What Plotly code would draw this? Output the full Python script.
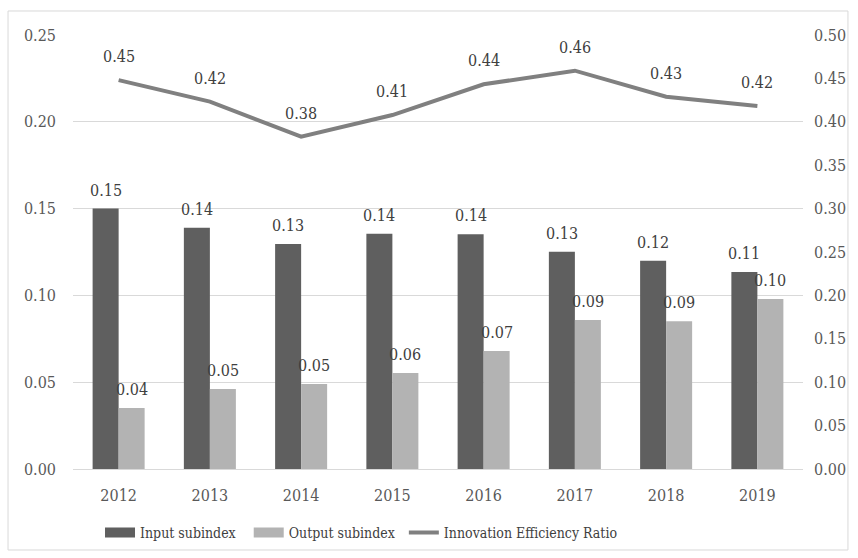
import plotly.graph_objects as go

years = ["2012", "2013", "2014", "2015", "2016", "2017", "2018", "2019"]
input_subindex = [0.150, 0.139, 0.1296, 0.1355, 0.1352, 0.1252, 0.120, 0.1135]
output_subindex = [0.0352, 0.0461, 0.049, 0.0553, 0.068, 0.0858, 0.0851, 0.0979]
efficiency_ratio = [0.448, 0.4232, 0.3829, 0.4078, 0.4432, 0.4589, 0.4289, 0.4182]

left_ticks = [0, 0.05, 0.10, 0.15, 0.20, 0.25]
right_ticks = [0, 0.05, 0.10, 0.15, 0.20, 0.25, 0.30, 0.35, 0.40, 0.45, 0.50]

FONT = "DejaVu Serif Condensed, DejaVu Serif, serif"
TEXT = "#595959"
DARK = "#5f5f5f"
LIGHT = "#b3b3b3"
LINE = "#808080"
GRID = "#d9d9d9"
NBSP = "\u00a0"

fig = go.Figure()
fig.add_trace(go.Bar(x=years, y=input_subindex, name="Input subindex", showlegend=False,
                     marker=dict(color=DARK, line=dict(width=0))))
fig.add_trace(go.Bar(x=years, y=output_subindex, name="Output subindex", showlegend=False,
                     marker=dict(color=LIGHT, line=dict(width=0))))
fig.add_trace(go.Scatter(x=years, y=efficiency_ratio, name="Innovation Efficiency Ratio",
                         mode="lines", yaxis="y2", showlegend=False,
                         line=dict(color=LINE, width=4)))

# legend keys: wide rectangles for the bars, a thick stroke for the ratio line
for name, color, width in [("Input subindex" + NBSP * 2, DARK, 10),
                           ("Output subindex" + NBSP, LIGHT, 10),
                           ("Innovation Efficiency Ratio", LINE, 4)]:
    fig.add_trace(go.Scatter(x=[None], y=[None], mode="lines", name=name,
                             line=dict(color=color, width=width), hoverinfo="skip"))

annotations = []
half = 0.1425
for i, (a, b, r) in enumerate(zip(input_subindex, output_subindex, efficiency_ratio)):
    annotations.append(dict(x=i - half, y=a, xref="x", yref="y", text=f"{a:.2f}",
                            showarrow=False, yanchor="bottom", yshift=7))
    annotations.append(dict(x=i + half, y=b, xref="x", yref="y", text=f"{b:.2f}",
                            showarrow=False, yanchor="bottom", yshift=7))
    annotations.append(dict(x=i, y=r, xref="x", yref="y2", text=f"{r:.2f}",
                            showarrow=False, yanchor="bottom", yshift=12))
for an in annotations:
    an["font"] = dict(family=FONT, size=16, color="#404040")

fig.update_layout(
    width=858, height=558,
    margin=dict(l=73, r=55, t=35, b=89, autoexpand=False),
    paper_bgcolor="white", plot_bgcolor="white",
    font=dict(family=FONT, size=16, color=TEXT),
    barmode="group", bargap=0.43, bargroupgap=0,
    showlegend=True,
    legend=dict(orientation="h", x=0.037, xanchor="left", y=-0.147, yanchor="middle",
                bgcolor="rgba(0,0,0,0)",
                font=dict(family=FONT, size=14, color="#404040"),
                itemwidth=30, traceorder="normal"),
    xaxis=dict(type="category", showgrid=False, ticks="", showline=False,
               ticklabelstandoff=15,
               tickfont=dict(family=FONT, size=16, color=TEXT)),
    yaxis=dict(range=[0, 0.25], tickvals=left_ticks, tickformat=".2f",
               showgrid=True, gridcolor=GRID, gridwidth=1, zeroline=True,
               zerolinecolor=GRID, zerolinewidth=1, showline=False, ticks="",
               ticklabelstandoff=16,
               tickfont=dict(family=FONT, size=16, color=TEXT)),
    yaxis2=dict(range=[0, 0.5], tickvals=right_ticks, tickformat=".2f",
                overlaying="y", side="right", showgrid=False, zeroline=False,
                showline=False, ticks="", ticklabelstandoff=10,
                tickfont=dict(family=FONT, size=16, color=TEXT)),
    annotations=annotations,
    shapes=[dict(type="rect", xref="paper", yref="paper",
                 x0=-0.089, x1=1.0616, y0=-0.1866, y1=1.0553,
                 line=dict(color=GRID, width=1), fillcolor="rgba(0,0,0,0)",
                 layer="above")],
)

fig.write_html("out.html")
